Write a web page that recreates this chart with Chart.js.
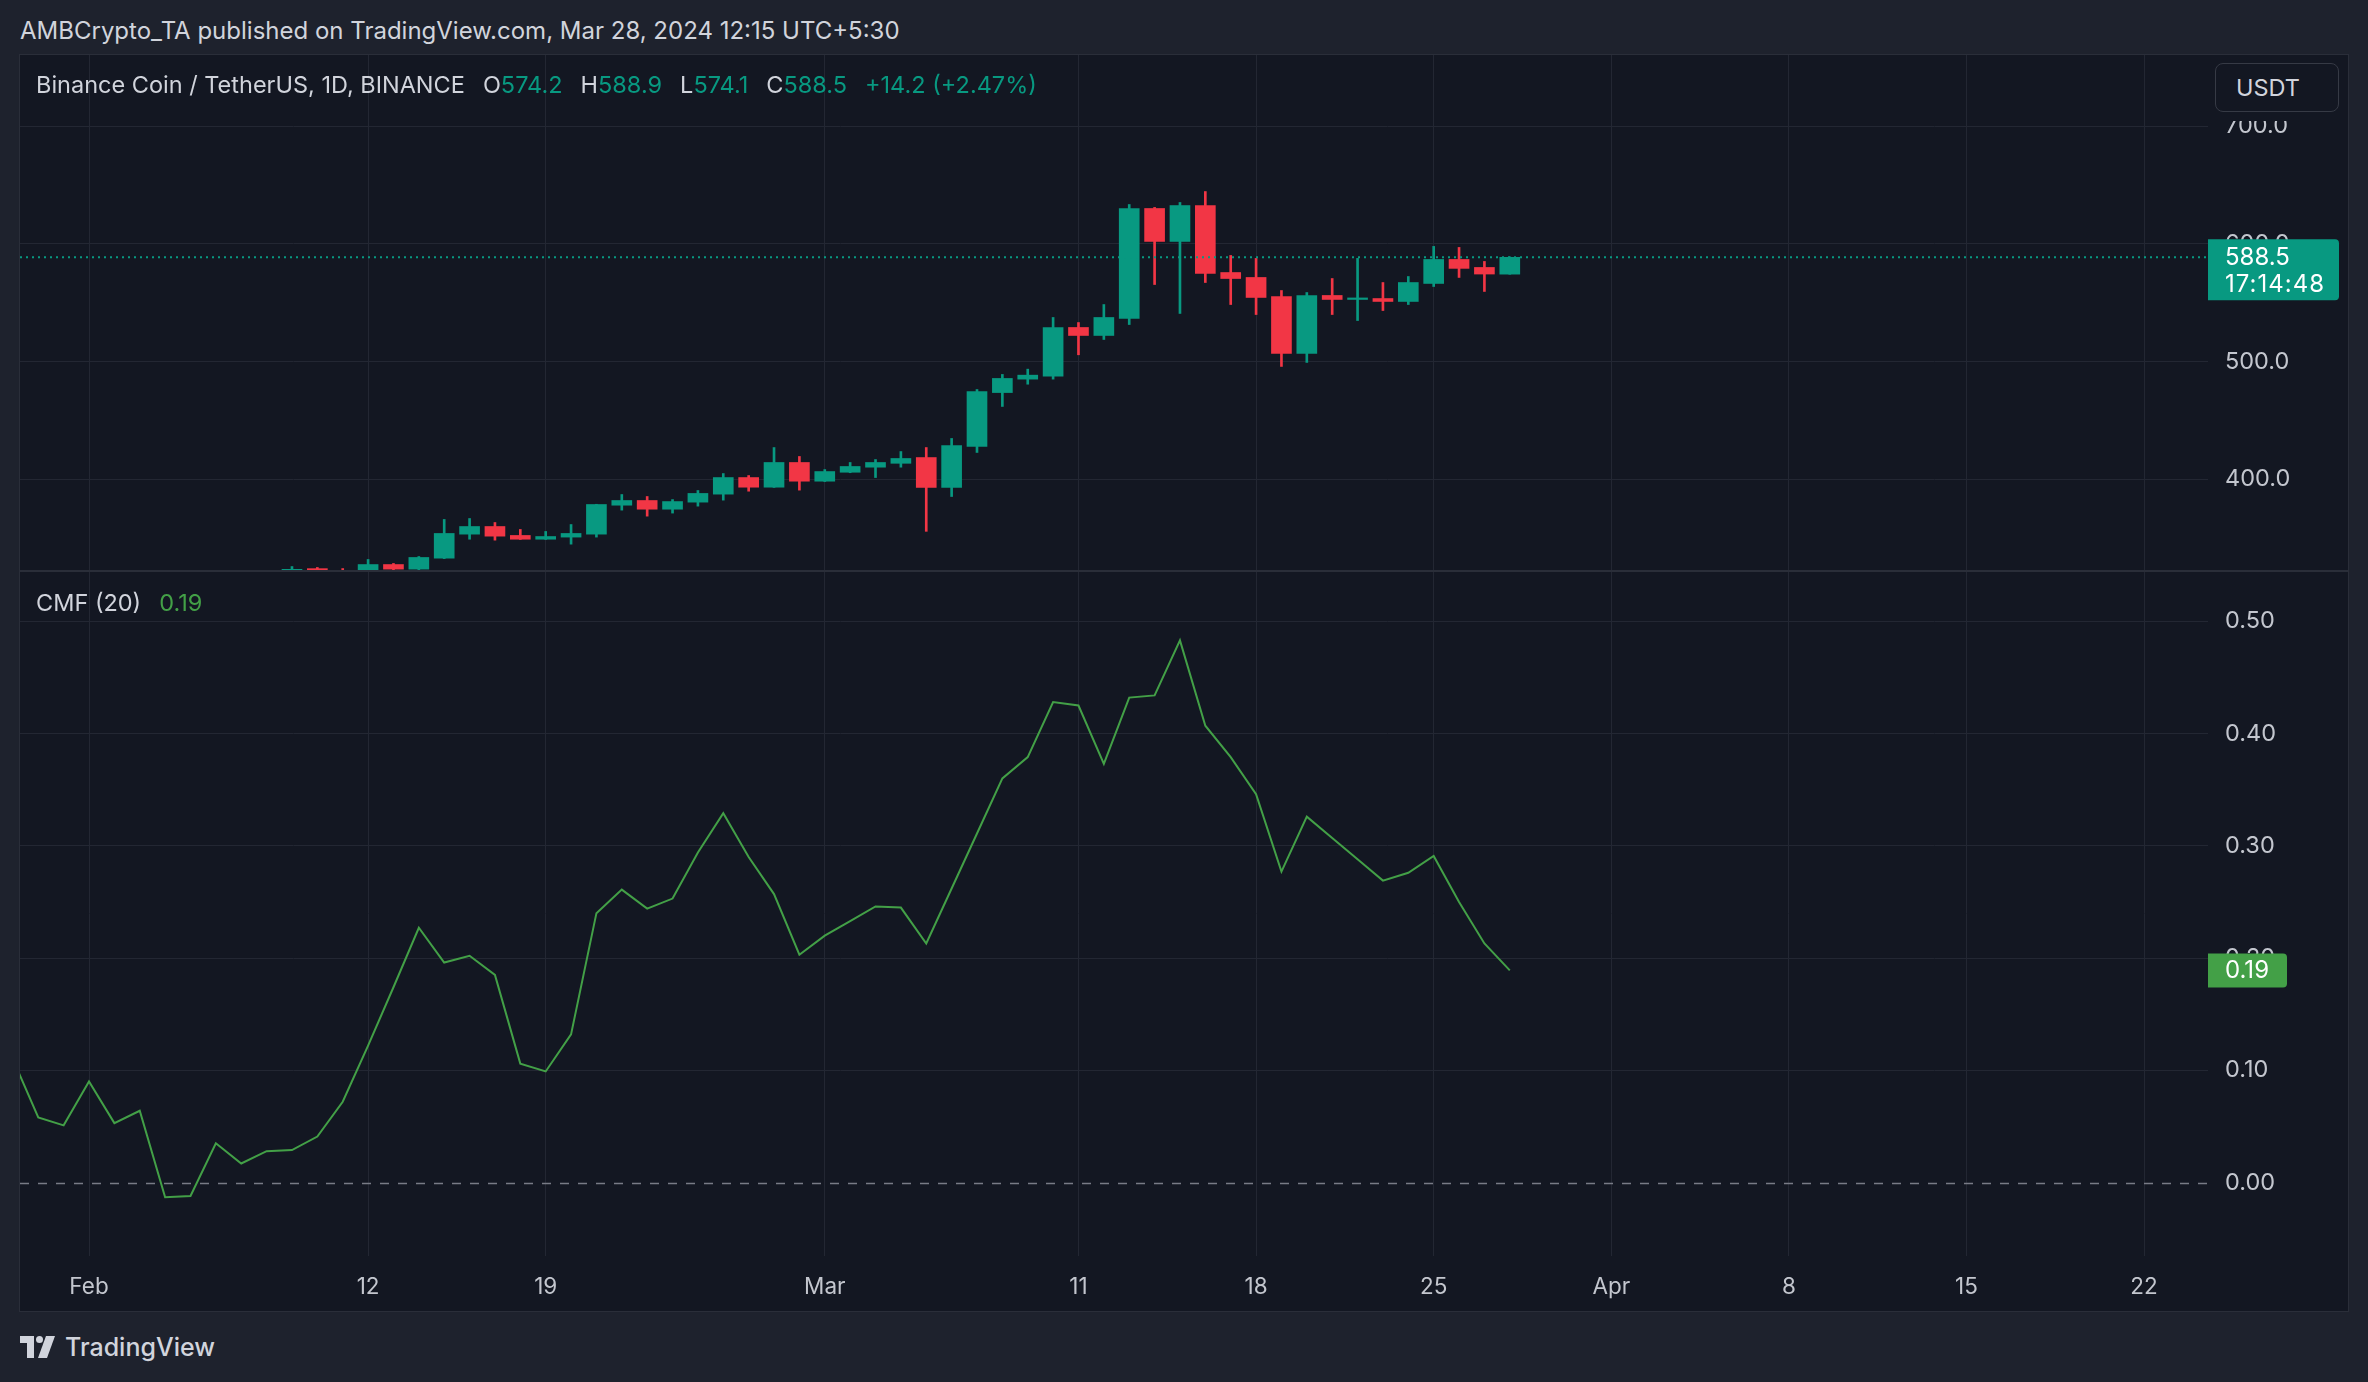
<!DOCTYPE html>
<html>
<head>
<meta charset="utf-8">
<script src="https://cdn.jsdelivr.net/npm/chart.js@4.4.1/dist/chart.umd.min.js"></script>
<style>
  html, body { margin: 0; padding: 0; }
  body { width: 2368px; height: 1382px; background: #1e222d; position: relative; overflow: hidden;
         font-family: Inter, "Noto Sans", sans-serif; color: #d1d4dc; }
  #pub { position: absolute; left: 20px; top: 16px; font-size: 24px; line-height: 30px; white-space: nowrap; }
  #panel { position: absolute; left: 20px; top: 55px; width: 2328px; height: 1256px; background: #131722;
           box-shadow: 0 0 0 1px #2a2e39; }
  #priceWrap { position: absolute; left: 0; top: 0; width: 2328px; height: 516px; }
  #cmfWrap { position: absolute; left: 0; top: 516px; width: 2328px; height: 740px; }
  #sep { position: absolute; left: 0; top: 515px; width: 2328px; height: 2px; background: #2a2e39; }
  .legend { position: absolute; left: 16px; font-size: 23.5px; line-height: 30px; white-space: nowrap; }
  .legend .gap { margin-left: 18px; }
  .up { color: #089981; }
  #legend { top: 15px; }
  #cmfLegend { top: 533px; }
  #cmfLegend .val { color: #43a047; }
  #cover { position: absolute; left: 2189px; top: 1px; width: 138px; height: 65px; background: #131722; }
  #usdt { position: absolute; left: 2195px; top: 8px; width: 102px; height: 47px; border: 1px solid #363a45;
          border-radius: 8px; background: #131722; font-size: 23.5px; line-height: 47px; padding-left: 20px; color: #d1d4dc; }
  #footer { position: absolute; left: 20px; top: 1333px; height: 28px; display: flex; align-items: center; }
  #footer span { font-size: 25px; font-weight: 500; margin-left: 9px; color: #d1d4dc; }
</style>
</head>
<body>
<div id="pub">AMBCrypto_TA published on TradingView.com, Mar 28, 2024 12:15 UTC+5:30</div>
<div id="panel">
  <div id="priceWrap"><canvas id="price"></canvas></div>
  <div id="cmfWrap"><canvas id="cmf"></canvas></div>
  <div id="sep"></div>
  <div id="cover"></div>
  <div id="usdt">USDT</div>
  <div class="legend" id="legend"></div>
  <div class="legend" id="cmfLegend"></div>
</div>
<div id="footer">
  <svg width="36" height="22" viewBox="0 0 36 22">
    <path d="M0 0 H14 V22 H7 V7 H0 Z" fill="#d1d4dc"/>
    <circle cx="19.5" cy="3.5" r="3.5" fill="#d1d4dc"/>
    <path d="M26 0 H35 L27 22 H18 Z" fill="#d1d4dc"/>
  </svg>
  <span>TradingView</span>
</div>
<script>
// daily candles Jan 29 .. Mar 28 2024, x = days counted from Feb 1
const firstDay = -3;
const open  = [297.0,301.0,303.5,300.5,299.0,302.5,303.0,300.0,298.0,305.5,309.0,318.0,324.0,320.5,319.8,327.5,323.6,332.9,353.3,359.8,
               352.2,349.0,350.8,353.3,377.9,381.9,374.5,380.5,387.3,401.4,393.2,414.2,398.3,405.9,410.2,413.5,418.4,393.0,427.8,473.6,
               485.0,487.5,528.9,522.1,536.5,630.0,602.0,632.5,575.6,571.4,555.2,506.8,556.1,552.7,553.5,551.0,566.3,586.7,579.9,574.2];
const high  = [302.5,305.0,306.0,303.0,304.0,305.5,304.5,303.0,306.5,310.0,320.0,325.8,325.0,324.1,331.8,328.4,334.3,365.8,366.6,363.2,
               357.3,355.6,361.5,378.7,387.0,385.3,382.7,390.4,404.8,403.1,426.9,419.3,408.2,414.2,416.7,423.5,426.9,434.6,476.2,489.0,
               493.5,537.4,533.1,548.4,633.4,630.9,635.1,644.4,590.1,587.6,560.3,558.6,570.5,587.6,567.1,572.2,597.8,596.9,585.0,588.9];
const low   = [294.0,298.0,297.5,294.5,297.5,300.5,298.5,295.0,297.0,303.0,308.0,316.0,318.0,318.0,317.0,321.5,323.0,332.5,349.0,348.2,
               348.8,348.8,344.8,350.8,373.7,368.6,371.2,377.1,382.2,389.8,393.0,390.7,398.0,405.5,401.4,410.2,355.7,385.3,422.7,461.8,
               480.7,485.0,505.7,518.7,531.4,565.4,540.8,567.1,548.4,539.9,495.8,499.2,539.9,534.8,543.3,548.4,563.7,571.4,559.5,574.1];
const close = [301.0,303.5,300.5,299.0,302.5,303.0,300.0,298.0,305.5,309.0,318.0,323.4,320.5,319.8,327.5,323.6,333.5,353.9,359.8,351.6,
               349.0,351.3,353.9,378.5,381.9,374.5,381.0,387.9,401.4,393.2,414.2,398.3,406.5,410.8,414.2,417.6,393.0,428.6,474.5,485.6,
               488.4,528.9,522.1,537.4,630.0,602.0,632.5,574.8,570.5,554.4,506.8,556.1,552.7,554.0,551.0,567.1,586.7,579.1,574.3,588.5];
const cmf   = [0.110,0.058,0.051,0.090,0.053,0.064,-0.013,-0.012,0.035,0.017,0.028,0.029,0.041,0.072,0.122,0.174,0.227,0.196,0.202,0.185,
               0.106,0.099,0.132,0.240,0.261,0.244,0.253,0.294,0.329,0.290,0.257,0.203,0.220,0.233,0.246,0.245,0.213,0.262,0.311,0.360,
               0.379,0.428,0.425,0.373,0.432,0.434,0.483,0.407,0.379,0.346,0.277,0.326,0.307,0.288,0.269,0.276,0.291,0.250,0.213,0.189];

const tickDays   = [0, 11, 18, 29, 39, 46, 53, 60, 67, 74, 81];
const tickLabels = ['Feb', '12', '19', 'Mar', '11', '18', '25', 'Apr', '8', '15', '22'];
const priceTicks = [400, 500, 600, 700];
const cmfTicks   = [0, 0.1, 0.2, 0.3, 0.4, 0.5];
const remaining  = '17:14:48';

const UP = '#089981', DOWN = '#f23645', CMF_COLOR = '#43a047';
const GRID = '#232733', AXIS_TEXT = '#c3c6ce', FONT = 'Inter';
const X_MIN = -2.72, X_MAX = 83.52;

// legends
const n = close.length - 1;
const chg = close[n] - close[n - 1];
document.getElementById('legend').innerHTML =
  'Binance Coin / TetherUS, 1D, BINANCE' +
  '<span class="gap">O</span><span class="up">' + open[n].toFixed(1) + '</span>' +
  '<span class="gap">H</span><span class="up">' + high[n].toFixed(1) + '</span>' +
  '<span class="gap">L</span><span class="up">' + low[n].toFixed(1) + '</span>' +
  '<span class="gap">C</span><span class="up">' + close[n].toFixed(1) + '</span>' +
  '<span class="gap up">' + (chg >= 0 ? '+' : '') + chg.toFixed(1) + ' (' + (chg >= 0 ? '+' : '') +
  (chg / close[n - 1] * 100).toFixed(2) + '%)</span>';
document.getElementById('cmfLegend').innerHTML =
  'CMF (20)<span class="gap val">' + cmf[n].toFixed(2) + '</span>';

const colors = close.map((c, i) => c >= open[i] ? UP : DOWN);
const bodies = close.map((c, i) => ({x: firstDay + i, y: [open[i], c]}));
const wicks  = close.map((c, i) => ({x: firstDay + i, y: [low[i], high[i]]}));
const cmfPts = cmf.map((v, i) => ({x: firstDay + i, y: v}));

function xAxis(showLabels) {
  return {
    type: 'linear', min: X_MIN, max: X_MAX, offset: false,
    afterBuildTicks: s => { s.ticks = tickDays.map(v => ({value: v})); },
    grid: {color: GRID, drawTicks: false, offset: false},
    border: {display: false},
    ticks: {display: showLabels, autoSkip: false, maxRotation: 0, padding: 18,
            color: AXIS_TEXT, font: {family: FONT, size: 22.5}, callback: (v, i) => tickLabels[i]},
    afterFit: s => { s.height = showLabels ? 55 : 0; s.paddingLeft = 0; s.paddingRight = 0; }
  };
}

function yAxis(min, max, ticks, digits, hideZero) {
  return {
    position: 'right', min: min, max: max,
    afterBuildTicks: s => { s.ticks = ticks.map(v => ({value: v})); },
    grid: {color: c => (hideZero && c.tick && c.tick.value === 0) ? 'rgba(0,0,0,0)' : GRID, drawTicks: false},
    border: {display: false},
    ticks: {padding: 17, color: AXIS_TEXT, font: {family: FONT, size: 23.5}, callback: v => v.toFixed(digits)},
    afterFit: s => { s.width = 140; s.paddingTop = 0; s.paddingBottom = 0; }
  };
}

function tag(ctx, x, y, w, h, bg) {
  ctx.fillStyle = bg;
  ctx.beginPath();
  ctx.roundRect(x, y, w, h, [0, 4, 4, 0]);
  ctx.fill();
}

const lastPrice = {
  id: 'lastPrice',
  afterDatasetsDraw(chart) {
    const {ctx, chartArea: a, scales: {y}} = chart;
    const py = y.getPixelForValue(close[n]);
    ctx.save();
    ctx.strokeStyle = UP; ctx.lineWidth = 2; ctx.setLineDash([2, 4]);
    ctx.beginPath(); ctx.moveTo(a.left, py); ctx.lineTo(a.right, py); ctx.stroke();
    ctx.restore();
  },
  afterDraw(chart) {
    const {ctx, chartArea: a, scales: {y}} = chart;
    const py = y.getPixelForValue(close[n]);
    ctx.save();
    tag(ctx, a.right, py - 18, 131, 61, UP);
    ctx.fillStyle = '#ffffff';
    ctx.font = '24px ' + FONT;
    ctx.textBaseline = 'middle';
    ctx.fillText(close[n].toFixed(1), a.right + 17, py);
    ctx.letterSpacing = '1px';
    ctx.fillText(remaining, a.right + 17, py + 27);
    ctx.restore();
  }
};

const cmfMarks = {
  id: 'cmfMarks',
  beforeDatasetsDraw(chart) {
    const {ctx, chartArea: a, scales: {y}} = chart;
    const zy = Math.round(y.getPixelForValue(0)) + 0.5;
    ctx.save();
    ctx.strokeStyle = '#787b86'; ctx.lineWidth = 1.5; ctx.setLineDash([9, 9]);
    ctx.beginPath(); ctx.moveTo(a.left, zy); ctx.lineTo(a.right, zy); ctx.stroke();
    ctx.restore();
  },
  afterDraw(chart) {
    const {ctx, chartArea: a, scales: {y}} = chart;
    const vy = y.getPixelForValue(cmf[n]);
    ctx.save();
    tag(ctx, a.right, vy - 17, 79, 34, CMF_COLOR);
    ctx.fillStyle = '#ffffff';
    ctx.font = '24px ' + FONT;
    ctx.textBaseline = 'middle';
    ctx.fillText(cmf[n].toFixed(2), a.right + 17, vy);
    ctx.restore();
  }
};

const common = {
  responsive: true, maintainAspectRatio: false, animation: false, devicePixelRatio: 1,
  layout: {padding: 0},
  plugins: {legend: {display: false}, tooltip: {enabled: false}}
};

new Chart(document.getElementById('price'), {
  type: 'bar',
  data: {
    datasets: [
      {data: wicks, backgroundColor: colors, barThickness: 2, grouped: false, order: 2, clip: 0},
      {data: bodies, backgroundColor: colors, barThickness: 20, grouped: false, order: 1, clip: 0}
    ]
  },
  options: Object.assign({}, common, {
    scales: {x: xAxis(false), y: yAxis(322, 760.4, priceTicks, 1, false)}
  }),
  plugins: [lastPrice]
});

new Chart(document.getElementById('cmf'), {
  type: 'line',
  data: {
    datasets: [{data: cmfPts, borderColor: CMF_COLOR, borderWidth: 2, pointRadius: 0, tension: 0, clip: 0}]
  },
  options: Object.assign({}, common, {
    scales: {x: xAxis(true), y: yAxis(-0.0654, 0.5448, cmfTicks, 2, true)}
  }),
  plugins: [cmfMarks]
});
</script>
</body>
</html>
